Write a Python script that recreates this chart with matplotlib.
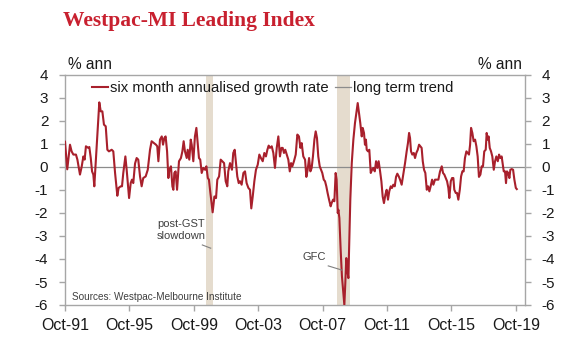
import matplotlib
matplotlib.use("Agg")
import matplotlib.pyplot as plt
from matplotlib.lines import Line2D

plt.rcParams['font.family'] = ['Liberation Sans', 'DejaVu Sans']
plt.rcParams['axes.unicode_minus'] = False

# ---- data (decimal year, % annualised) ----
dates = [
    1991.75, 1991.89, 1992.06, 1992.16, 1992.27, 1992.43, 1992.52, 1992.68, 1992.79, 1992.89,
    1992.97, 1993.05, 1993.20, 1993.26, 1993.35, 1993.43, 1993.51, 1993.57, 1993.68, 1993.78,
    1993.88, 1993.97, 1994.07, 1994.17, 1994.28, 1994.38, 1994.48, 1994.65, 1994.75, 1994.86,
    1995.00, 1995.08, 1995.21, 1995.29, 1995.37, 1995.50, 1995.58, 1995.73, 1995.83, 1995.91,
    1995.99, 1996.10, 1996.20, 1996.30, 1996.41, 1996.51, 1996.61, 1996.76, 1996.89, 1997.03,
    1997.13, 1997.28, 1997.40, 1997.48, 1997.55, 1997.65, 1997.76, 1997.84, 1997.92, 1998.00,
    1998.09, 1998.17, 1998.23, 1998.33, 1998.42, 1998.48, 1998.54, 1998.62, 1998.71, 1998.83,
    1998.95, 1999.04, 1999.12, 1999.20, 1999.31, 1999.37, 1999.47, 1999.56, 1999.62, 1999.72,
    1999.82, 1999.91, 1999.99, 2000.07, 2000.15, 2000.24, 2000.34, 2000.45, 2000.53, 2000.62,
    2000.69, 2000.78, 2000.86, 2000.92, 2001.03, 2001.13, 2001.21, 2001.32, 2001.42, 2001.52,
    2001.63, 2001.73, 2001.83, 2001.89, 2002.00, 2002.12, 2002.20, 2002.29, 2002.37, 2002.45,
    2002.54, 2002.62, 2002.72, 2002.83, 2002.93, 2003.03, 2003.14, 2003.24, 2003.32, 2003.41,
    2003.51, 2003.61, 2003.72, 2003.82, 2003.92, 2004.03, 2004.13, 2004.23, 2004.32, 2004.40,
    2004.48, 2004.59, 2004.69, 2004.79, 2004.90, 2005.00, 2005.10, 2005.19, 2005.27, 2005.35,
    2005.43, 2005.52, 2005.62, 2005.71, 2005.79, 2005.87, 2005.97, 2006.08, 2006.18, 2006.28,
    2006.37, 2006.45, 2006.55, 2006.66, 2006.74, 2006.82, 2006.91, 2006.99, 2007.07, 2007.15,
    2007.24, 2007.32, 2007.40, 2007.48, 2007.57, 2007.65, 2007.73, 2007.82, 2007.90, 2007.98,
    2008.06, 2008.15, 2008.25, 2008.31, 2008.40, 2008.48, 2008.56, 2008.62, 2008.69, 2008.73,
    2008.79, 2008.87, 2008.95, 2009.04, 2009.10, 2009.16, 2009.22, 2009.28, 2009.35, 2009.41,
    2009.47, 2009.56, 2009.66, 2009.76, 2009.87, 2009.93, 2010.01, 2010.09, 2010.18, 2010.24,
    2010.32, 2010.38, 2010.44, 2010.49, 2010.57, 2010.65, 2010.74, 2010.82, 2010.90, 2010.99,
    2011.07, 2011.15, 2011.23, 2011.32, 2011.40, 2011.48, 2011.56, 2011.65, 2011.73, 2011.81,
    2011.89, 2011.98, 2012.06, 2012.14, 2012.23, 2012.31, 2012.39, 2012.48, 2012.56, 2012.66,
    2012.76, 2012.87, 2012.97, 2013.05, 2013.12, 2013.18, 2013.24, 2013.32, 2013.41, 2013.49,
    2013.57, 2013.66, 2013.74, 2013.82, 2013.90, 2013.97, 2014.05, 2014.13, 2014.22, 2014.30,
    2014.38, 2014.46, 2014.55, 2014.63, 2014.73, 2014.84, 2014.94, 2015.04, 2015.15, 2015.23,
    2015.31, 2015.40, 2015.48, 2015.56, 2015.62, 2015.71, 2015.79, 2015.87, 2015.93, 2016.02,
    2016.10, 2016.18, 2016.27, 2016.35, 2016.43, 2016.51, 2016.59, 2016.68, 2016.76, 2016.84,
    2016.91, 2016.97, 2017.05, 2017.13, 2017.22, 2017.30, 2017.38, 2017.46, 2017.55, 2017.63,
    2017.71, 2017.79, 2017.88, 2017.94, 2018.00, 2018.06, 2018.13, 2018.21, 2018.29, 2018.38,
    2018.46, 2018.54, 2018.63, 2018.71, 2018.79, 2018.87, 2018.94, 2019.00, 2019.08, 2019.14,
    2019.20, 2019.28, 2019.35, 2019.41, 2019.50, 2019.58, 2019.66, 2019.75, 2019.81,
]
growth = [
    1.10, -0.10, 0.97, 0.68, 0.54, 0.54, 0.32, -0.33, 0.03, 0.46,
    0.32, 0.90, 0.83, 0.87, 0.39, -0.19, -0.33, -0.84, 0.46, 1.62,
    2.81, 2.42, 2.42, 1.84, 1.77, 0.75, 0.68, 0.75, 0.68, -0.26,
    -1.25, -0.91, -0.84, -0.84, -0.26, 0.46, -0.12, -1.35, -0.70, -0.55,
    -0.70, 0.15, 0.39, 0.32, -0.41, -0.84, -0.48, -0.41, -0.12, 0.75,
    1.12, 1.04, 0.97, 0.90, 0.25, 1.19, 1.33, 0.97, 1.26, 1.33,
    0.68, -0.48, -0.12, 0.03, -0.84, -0.99, -0.26, -0.19, -0.99, 0.25,
    0.39, 0.68, 1.12, 0.68, 0.39, 0.75, 0.32, 1.19, 0.97, 0.25,
    1.33, 1.70, 1.04, 0.39, 0.32, -0.26, -0.04, -0.12, 0.03, -0.48,
    -0.55, -1.13, -1.60, -1.97, -1.28, -1.35, -0.55, -0.41, 0.32, 0.25,
    0.17, -0.62, -0.84, -0.19, 0.17, -0.12, 0.61, 0.75, 0.17, -0.41,
    -0.70, -0.62, -0.77, -0.26, -0.19, -0.70, -0.91, -0.99, -1.80, -1.28,
    -0.62, -0.12, 0.10, 0.54, 0.39, 0.25, 0.61, 0.46, 0.75, 0.93,
    0.83, 0.90, 0.61, -0.04, 0.83, 1.33, 0.46, 0.83, 0.83, 0.61,
    0.75, 0.54, 0.32, -0.19, 0.17, 0.03, 0.25, 0.54, 1.41, 1.33,
    0.83, 1.04, 0.46, 0.32, -0.43, -0.12, 0.39, -0.19, -0.04, 0.46,
    1.19, 1.55, 1.26, 0.46, 0.03, -0.12, -0.26, -0.55, -0.62, -0.84,
    -1.13, -1.42, -1.71, -1.57, -1.42, -1.49, -0.26, -0.55, -2.00, -1.86,
    -2.22, -3.59, -4.75, -5.48, -6.00, -5.04, -3.96, -4.46, -4.83, -3.16,
    -1.42, 0.17, 1.19, 1.91, 2.49, 2.78, 2.35, 1.91, 1.33, 1.70,
    1.48, 0.97, 1.19, 0.75, 0.68, 0.75, -0.26, -0.12, -0.04, -0.19,
    0.25, -0.04, 0.25, -0.19, -0.62, -1.28, -1.57, -1.20, -0.99, -1.42,
    -1.06, -0.84, -0.91, -0.77, -0.84, -0.43, -0.29, -0.41, -0.55, -0.77,
    -0.33, 0.17, 0.68, 1.04, 1.48, 1.26, 0.68, 0.54, 0.61, 0.39,
    0.61, 0.75, 0.97, 0.90, 0.83, 0.25, -0.12, -0.26, -0.99, -0.84,
    -1.06, -0.84, -0.55, -0.77, -0.55, -0.55, -0.55, -0.20, 0.03, -0.26,
    -0.33, -0.48, -0.62, -0.91, -1.35, -0.62, -0.48, -0.48, -0.99, -1.13,
    -1.13, -1.42, -0.99, -0.41, -0.19, -0.19, 0.39, 0.68, 0.61, 0.54,
    0.97, 1.70, 1.48, 1.12, 1.19, 0.90, 0.46, -0.43, -0.33, 0.03,
    0.03, 0.68, 0.75, 1.48, 1.19, 1.33, 0.83, 0.68, 0.46, -0.12,
    0.25, 0.46, 0.25, 0.54, 0.39, 0.46, 0.10, -0.19, -0.19, -0.70,
    -0.19, -0.26, -0.48, -0.12, -0.09, -0.12, -0.55, -0.91, -0.96,
]
trend_level = 0.0
shade_periods = [(2000.50, 2000.96), (2008.62, 2009.45)]
tick_years = [1991.75, 1995.75, 1999.75, 2003.75, 2007.75, 2011.75, 2015.75, 2019.75]
tick_labels = ['Oct-91', 'Oct-95', 'Oct-99', 'Oct-03', 'Oct-07', 'Oct-11', 'Oct-15', 'Oct-19']
y_ticks = [4, 3, 2, 1, 0, -1, -2, -3, -4, -5, -6]

RED = '#A8202C'
GREY = '#A6A6A6'
SHADE = '#E5DCCE'
TXT = '#1A1A1A'

fig = plt.figure(figsize=(5.8, 3.52), dpi=100)
ax = fig.add_axes([65/580, 1-305/352, 460/580, 230/352])

for a, b in shade_periods:
    ax.axvspan(a, b, color=SHADE, lw=0, zorder=0)

ax.axhline(trend_level, color='#8C8C8C', lw=0.9, zorder=1)
ax.plot(dates, growth, color=RED, lw=1.5, zorder=3, solid_joinstyle='round')

ax.set_xlim(1991.75, 2020.32)
ax.set_ylim(-6, 4)
ax.set_xticks(tick_years)
ax.set_xticklabels(tick_labels)
ax.set_yticks(y_ticks)

for s in ax.spines.values():
    s.set_color(GREY)
    s.set_linewidth(1.0)

ax.tick_params(axis='x', direction='out', length=4, width=1, color=GREY,
               labelsize=11.5, labelcolor=TXT, pad=5)
ax.tick_params(axis='y', direction='out', length=4, width=1, color=GREY,
               labelsize=11, labelcolor=TXT, pad=8,
               left=True, right=True, labelleft=True, labelright=True)

# axis unit labels
ax.text(0.0065, 1.012, '% ann', transform=ax.transAxes, ha='left', va='bottom',
        fontsize=11.2, color=TXT)
ax.text(0.9935, 1.012, '% ann', transform=ax.transAxes, ha='right', va='bottom',
        fontsize=11.2, color=TXT)

# legend
handles = [Line2D([], [], color=RED, lw=1.5), Line2D([], [], color='#8C8C8C', lw=0.9)]
ax.legend(handles, ['six month annualised growth rate', 'long term trend'],
          loc='center left', bbox_to_anchor=(0.0587, 0.943), ncol=2, frameon=False,
          fontsize=10.7, handlelength=1.07, handletextpad=0.13, columnspacing=0.47,
          borderpad=0, borderaxespad=0, labelcolor=TXT)

# annotations
ax.text(1997.46, -2.72, 'post-GST\nslowdown', fontsize=8, color='#404040',
        ha='left', va='center', linespacing=1.25)
ax.plot([2000.28, 2000.80], [-3.39, -3.53], color='#808080', lw=0.8, zorder=4)
ax.text(2006.51, -3.93, 'GFC', fontsize=8, color='#404040', ha='left', va='center')
ax.plot([2008.10, 2008.94], [-4.30, -4.48], color='#808080', lw=0.8, zorder=4)

ax.text(0.0146, 0.033, 'Sources: Westpac-Melbourne Institute', transform=ax.transAxes,
        fontsize=7.2, color='#404040', ha='left', va='center')

fig.text(63/580, 1-21/352, 'Westpac-MI Leading Index', fontsize=15.5, fontweight='bold',
         family='Liberation Serif', color='#C8202F', ha='left', va='center')

fig.savefig('out.png', dpi=100)
